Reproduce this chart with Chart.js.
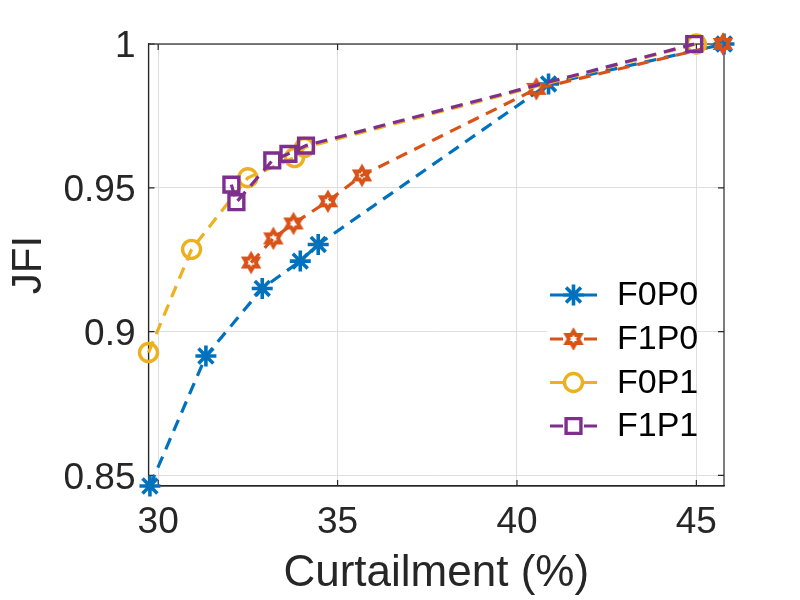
<!DOCTYPE html>
<html><head><meta charset="utf-8">
<script src="https://cdn.jsdelivr.net/npm/chart.js@4/dist/chart.umd.min.js"></script>
<style>html,body{margin:0;padding:0;background:#fff}#wrap{width:800px;height:600px}</style>
</head><body><div id="wrap"><canvas id="c" width="800" height="600"></canvas></div>
<script>
// ---- data ----
const seriesNames = ['F0P0', 'F1P0', 'F0P1', 'F1P1'];
const xF0P0 = [29.77, 31.33, 32.90, 33.96, 34.46, 40.88, 45.77];
const yF0P0 = [0.8463, 0.8915, 0.9150, 0.9245, 0.9303, 0.9861, 1.0];
const xF1P0 = [32.59, 33.21, 33.77, 34.73, 35.68, 40.54, 45.74];
const yF1P0 = [0.9240, 0.9324, 0.9376, 0.9453, 0.9543, 0.9844, 1.0];
const xF0P1 = [29.73, 30.93, 32.50, 33.80, 34.08, 45.00];
const yF0P1 = [0.8927, 0.9286, 0.9535, 0.9605, 0.9640, 1.0];
const xF1P1 = [32.04, 32.18, 33.18, 33.63, 34.12, 44.94];
const yF1P1 = [0.9511, 0.9450, 0.9595, 0.9618, 0.9647, 1.0];
const xTicks = [30, 35, 40, 45];
const yTicks = [0.85, 0.9, 0.95, 1];
const xLabel = 'Curtailment (%)';
const yLabel = 'JFI';

// ---- styling ----
const FONT = "'Liberation Sans', Arial, Helvetica, sans-serif";
const colors = ['#0072BD', '#D95319', '#EDB120', '#7E2F8E'];
const AX = '#262626';

function hexagram(color) {
  const c = document.createElement('canvas');
  c.width = 26; c.height = 26;
  const g = c.getContext('2d');
  const R = 8.0, r = R / Math.sqrt(3);
  g.beginPath();
  for (let i = 0; i < 12; i++) {
    const ang = -Math.PI / 2 + i * Math.PI / 6;
    const rr = i % 2 === 0 ? R : r;
    const px = 13 + rr * Math.cos(ang), py = 13 + rr * Math.sin(ang);
    if (i === 0) g.moveTo(px, py); else g.lineTo(px, py);
  }
  g.closePath();
  g.strokeStyle = color; g.lineWidth = 3.8; g.lineJoin = 'miter';
  g.stroke();
  return c;
}

const styles = [
  {pointStyle: 'star', radius: 10.5, bw: 3.6},
  {pointStyle: hexagram(colors[1]), radius: 10, bw: 3.4},
  {pointStyle: 'circle', radius: 9, bw: 3.4},
  {pointStyle: 'rect', radius: 10.5, bw: 3.4}
];

const xs = [xF0P0, xF1P0, xF0P1, xF1P1];
const ys = [yF0P0, yF1P0, yF0P1, yF1P1];

const datasets = seriesNames.map((name, k) => ({
  label: name,
  data: xs[k].map((x, i) => ({x: x, y: ys[k][i]})),
  showLine: true,
  borderColor: colors[k],
  backgroundColor: 'rgba(0,0,0,0)',
  borderWidth: 3.2,
  borderDash: [12, 8],
  tension: 0,
  pointStyle: styles[k].pointStyle,
  pointRadius: styles[k].radius,
  pointHoverRadius: styles[k].radius,
  pointBorderWidth: styles[k].bw,
  pointBorderColor: colors[k],
  pointBackgroundColor: 'rgba(0,0,0,0)',
  clip: false,
  order: 4 - k
}));

const boxPlugin = {
  id: 'matlabBox',
  beforeDatasetsDraw(chart) {
    const {ctx, chartArea: a, scales: {x, y}} = chart;
    ctx.save();
    ctx.strokeStyle = AX; ctx.lineWidth = 1.2;
    ctx.strokeRect(a.left, a.top, a.right - a.left, a.bottom - a.top);
    ctx.beginPath();
    xTicks.forEach(v => {
      const px = x.getPixelForValue(v);
      ctx.moveTo(px, a.bottom); ctx.lineTo(px, a.bottom - 6);
      ctx.moveTo(px, a.top); ctx.lineTo(px, a.top + 6);
    });
    yTicks.forEach(v => {
      const py = y.getPixelForValue(v);
      ctx.moveTo(a.left, py); ctx.lineTo(a.left + 6, py);
      ctx.moveTo(a.right, py); ctx.lineTo(a.right - 6, py);
    });
    ctx.stroke();
    ctx.restore();
  },
  afterDraw(chart) {
    const {ctx} = chart;
    ctx.save();
    ctx.fillStyle = '#fff';
    ctx.fillRect(547, 274, 148, 172);
    const rowY = [295, 339, 382.5, 426];
    chart.data.datasets.forEach((ds, k) => {
      const yy = rowY[k];
      ctx.strokeStyle = ds.borderColor; ctx.lineWidth = ds.borderWidth;
      ctx.setLineDash([]);
      ctx.beginPath();
      ctx.moveTo(550, yy); ctx.lineTo(563, yy);
      ctx.moveTo(584, yy); ctx.lineTo(597, yy);
      ctx.stroke();
      ctx.fillStyle = 'rgba(0,0,0,0)';
      ctx.strokeStyle = ds.pointBorderColor;
      ctx.lineWidth = ds.pointBorderWidth;
      Chart.helpers.drawPoint(ctx, {pointStyle: ds.pointStyle, radius: ds.pointRadius, rotation: 0, borderWidth: ds.pointBorderWidth}, 573.5, yy);
      ctx.fillStyle = '#000';
      ctx.font = '34px ' + FONT;
      ctx.textBaseline = 'middle';
      ctx.textAlign = 'left';
      ctx.fillText(ds.label, 617, yy + 1);
    });
    ctx.restore();
  }
};

new Chart(document.getElementById('c'), {
  type: 'scatter',
  data: {datasets: datasets},
  plugins: [boxPlugin],
  options: {
    responsive: false,
    animation: false,
    layout: {padding: {top: 44, right: 76, bottom: 0, left: 0}},
    plugins: {legend: {display: false}, tooltip: {enabled: false}},
    scales: {
      x: {
        type: 'linear', min: 29.73, max: 45.77,
        afterBuildTicks: s => { s.ticks = xTicks.map(v => ({value: v})); },
        afterFit: s => { s.height = 114; },
        ticks: {color: AX, padding: 18, font: {family: FONT, size: 37, lineHeight: 1}, callback: v => String(v)},
        grid: {color: '#dedede', lineWidth: 1, drawTicks: false},
        border: {color: AX, width: 1.2},
        title: {display: true, text: xLabel, color: AX, font: {family: FONT, size: 44, lineHeight: 1}, padding: {top: 0, bottom: 4}}
      },
      y: {
        type: 'linear', min: 0.8463, max: 1.0,
        afterBuildTicks: s => { s.ticks = yTicks.map(v => ({value: v})); },
        afterFit: s => { s.width = 148.5; },
        ticks: {color: AX, padding: 13, labelOffset: 3, font: {family: FONT, size: 37, lineHeight: 1}, callback: v => String(v)},
        grid: {color: '#dedede', lineWidth: 1, drawTicks: false},
        border: {color: AX, width: 1.2},
        title: {display: true, text: yLabel, color: AX, font: {family: FONT, size: 42, lineHeight: 1}, padding: {top: 8, bottom: 0}}
      }
    }
  }
});
</script>
</body></html>
